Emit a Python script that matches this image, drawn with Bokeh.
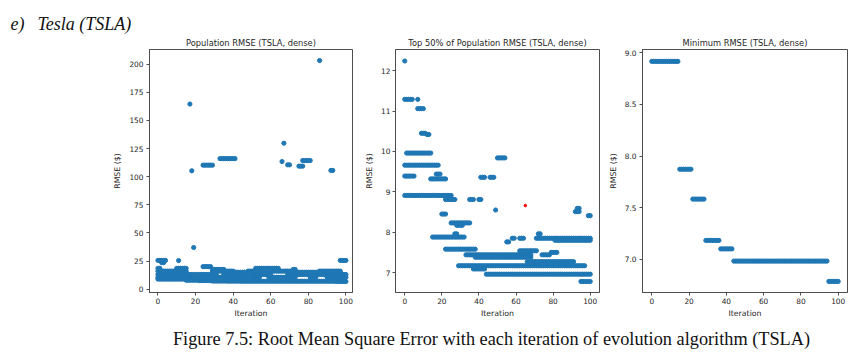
import numpy as np
from bokeh.plotting import figure
from bokeh.layouts import column, row
from bokeh.models import Range1d, FixedTicker, PrintfTickFormatter
from bokeh.core.properties import value
from bokeh.embed import file_html
from bokeh.resources import INLINE

# ---------------- data ----------------
iter_ticks = [0, 20, 40, 60, 80, 100]

# Panel 1: whole population RMSE, read as horizontal runs (value, first iter, last iter)
pop_val = [25.5, 23.5, 25.4, 164.5, 105.2, 37.0, 110.2, 20.0, 116.0, 113.4, 129.7,
           110.5, 109.3, 114.3, 203.2, 105.5, 25.5,
           8.9, 7.9, 7.6, 7.2, 7.1, 7.0, 6.8,
           10.5, 10.5, 10.5, 10.5,
           13.0, 13.0, 13.0,
           16.0, 16.0, 16.0, 16.0,
           18.5, 18.5, 18.5,
           15.0, 15.0,
           17.5, 17.5]
pop_start = [0, 2, 11, 17, 18, 19, 24, 24, 33, 66, 67,
             69, 75, 77, 86, 92, 97,
             0, 15, 22, 29, 37, 44, 95,
             0, 59, 81, 90,
             0, 35, 69,
             0, 29, 48, 86,
             0, 10, 52,
             40, 74,
             29, 72]
pop_end = [4, 3, 11, 17, 18, 19, 29, 28, 41, 66, 67,
           70, 77, 81, 86, 93, 100,
           14, 21, 28, 36, 43, 94, 100,
           54, 73, 84, 100,
           31, 60, 100,
           15, 40, 73, 97,
           1, 15, 64,
           48, 85,
           35, 73]
pop_yticks = [0, 25, 50, 75, 100, 125, 150, 175, 200]

# Panel 2: top 50% of population RMSE
top_val = [12.24, 11.29, 11.29, 11.06, 10.45, 10.42, 9.96, 9.66, 9.39, 9.44, 9.32,
           9.36, 9.36, 8.91, 8.81, 8.81, 8.81, 9.84, 8.55, 8.45, 8.23, 8.17,
           7.96, 7.96, 7.88, 7.58, 7.44, 7.38, 7.17, 7.09, 6.96, 6.78,
           8.51, 8.59, 8.41, 7.85, 7.85, 7.85, 7.80, 7.76, 7.54, 7.50, 7.44, 7.27]
top_start = [0, 0, 7, 7, 9, 12, 1, 0, 0, 17, 14,
             41, 46, 0, 22, 35, 40, 50, 49, 20, 25, 28,
             27, 72, 15, 22, 33, 38, 29, 37, 44, 95,
             92, 93, 99, 58, 62, 71, 81, 55, 62, 79, 74, 66]
top_end = [0, 4, 7, 10, 11, 13, 14, 18, 5, 19, 22,
           43, 48, 25, 27, 37, 41, 54, 49, 22, 35, 31,
           28, 73, 32, 38, 68, 68, 97, 43, 100, 100,
           94, 94, 100, 59, 64, 100, 100, 56, 71, 82, 78, 91]
red_x = [65]
red_y = [8.66]
top_yticks = [7, 8, 9, 10, 11, 12]

# Panel 3: minimum RMSE per iteration
min_val = [8.917, 7.873, 7.584, 7.184, 7.102, 6.984, 6.787]
min_start = [0, 15, 22, 29, 37, 44, 95]
min_end = [14, 21, 28, 36, 43, 94, 100]
min_yticks = [7.0, 7.5, 8.0, 8.5, 9.0]

titles = ["Population RMSE (TSLA, dense)",
          "Top 50% of Population RMSE (TSLA, dense)",
          "Minimum RMSE (TSLA, dense)"]
x_label = "Iteration"
y_label = "RMSE ($)"
header_parts = ["e)", "Tesla (TSLA)"]
caption = "Figure 7.5: Root Mean Square Error with each iteration of evolution algorithm (TSLA)"

# ---------------- helpers ----------------
BLUE = "#1f77b4"
TXT = "#262626"
EDGE = "#4d4d4d"
FONT = "DejaVu Sans"
MSIZE = 4.2

HDR_H = 34
ROW_H = 286
CAP_H = 32


def expand(vals, starts, ends):
    xs, ys = [], []
    for v, s, e in zip(vals, starts, ends):
        for it in range(s, e + 1):
            xs.append(it)
            ys.append(v)
    return xs, ys


def panel(title, width, left, right, xr, yr, yticks, std_y, lbl_std_y, fmt=None):
    p = figure(width=width, height=ROW_H, x_range=Range1d(*xr), y_range=Range1d(*yr),
               output_backend="svg", toolbar_location=None,
               min_border_left=left, min_border_right=right,
               min_border_top=47 - HDR_H, min_border_bottom=HDR_H + ROW_H - 294)
    p.title.text = title
    p.title.text_font = FONT
    p.title.text_font_size = "8.3px"
    p.title.text_font_style = "normal"
    p.title.text_color = TXT
    p.title.align = "center"
    p.title.standoff = 3
    p.grid.visible = False
    p.outline_line_color = EDGE
    p.outline_line_width = 1
    p.background_fill_color = "white"
    p.border_fill_color = "white"
    for ax in (p.xaxis[0], p.yaxis[0]):
        ax.axis_line_color = EDGE
        ax.major_tick_line_color = EDGE
        ax.major_tick_out = 3
        ax.major_tick_in = 0
        ax.minor_tick_line_color = None
        ax.major_label_text_font = FONT
        ax.major_label_text_font_size = "7.4px"
        ax.major_label_text_color = TXT
        ax.axis_label_text_font = FONT
        ax.axis_label_text_font_size = "7.8px"
        ax.axis_label_text_font_style = "normal"
        ax.axis_label_text_color = TXT
    p.xaxis.ticker = FixedTicker(ticks=iter_ticks)
    p.yaxis.ticker = FixedTicker(ticks=yticks)
    if fmt:
        p.yaxis.formatter = PrintfTickFormatter(format=fmt)
    p.xaxis.axis_label = x_label
    p.yaxis.axis_label = y_label
    p.xaxis.major_label_standoff = 2
    p.xaxis.axis_label_standoff = 2
    p.yaxis.major_label_standoff = std_y
    p.yaxis.axis_label_standoff = lbl_std_y
    return p


# ---------------- panels ----------------
p1 = panel(titles[0], 362, 149, 10, (-4.5, 103.5), (-3.0, 213.0), pop_yticks, 3, 4)
x1, y1 = expand(pop_val, pop_start, pop_end)
p1.scatter(x=x1, y=y1, size=MSIZE, marker="circle", fill_color=BLUE, line_color=BLUE)

p2 = panel(titles[1], 243, 31, 6, (-5, 105), (6.507, 12.525), top_yticks, 2, 4)
x2, y2 = expand(top_val, top_start, top_end)
p2.scatter(x=x2, y=y2, size=MSIZE, marker="circle", fill_color=BLUE, line_color=BLUE)
p2.scatter(x=red_x, y=red_y, size=2.5, marker="circle", fill_color="red", line_color="red")

p3 = panel(titles[2], 261, 36, 19, (-5, 105), (6.68, 9.032), min_yticks, 3, 4, "%.1f")
x3, y3 = expand(min_val, min_start, min_end)
p3.scatter(x=x3, y=y3, size=MSIZE, marker="circle", fill_color=BLUE, line_color=BLUE)

# ---------------- header and caption ----------------
hdr = figure(width=866, height=HDR_H, x_range=Range1d(0, 866), y_range=Range1d(HDR_H, 0),
             output_backend="svg", toolbar_location=None, min_border=0,
             x_axis_type=None, y_axis_type=None)
hdr.grid.visible = False
hdr.outline_line_color = None
hdr.text(x=[10, 37], y=[23, 23], text=header_parts, text_font=value("Liberation Serif"),
         text_font_style="italic", text_font_size="18px", text_color="#111111",
         text_baseline="alphabetic", text_align="left")

top_cap = HDR_H + ROW_H
cap = figure(width=866, height=CAP_H, x_range=Range1d(0, 866),
             y_range=Range1d(top_cap + CAP_H, top_cap),
             output_backend="svg", toolbar_location=None, min_border=0,
             x_axis_type=None, y_axis_type=None)
cap.grid.visible = False
cap.outline_line_color = None
cap.text(x=[491], y=[338], text=[caption], text_font=value("Liberation Serif"),
         text_font_size="18.3px", text_color="#111111",
         text_baseline="alphabetic", text_align="center")

layout = column(hdr, row(p1, p2, p3, spacing=0), cap, spacing=0)

open("out.html", "w").write(file_html(layout, INLINE))
